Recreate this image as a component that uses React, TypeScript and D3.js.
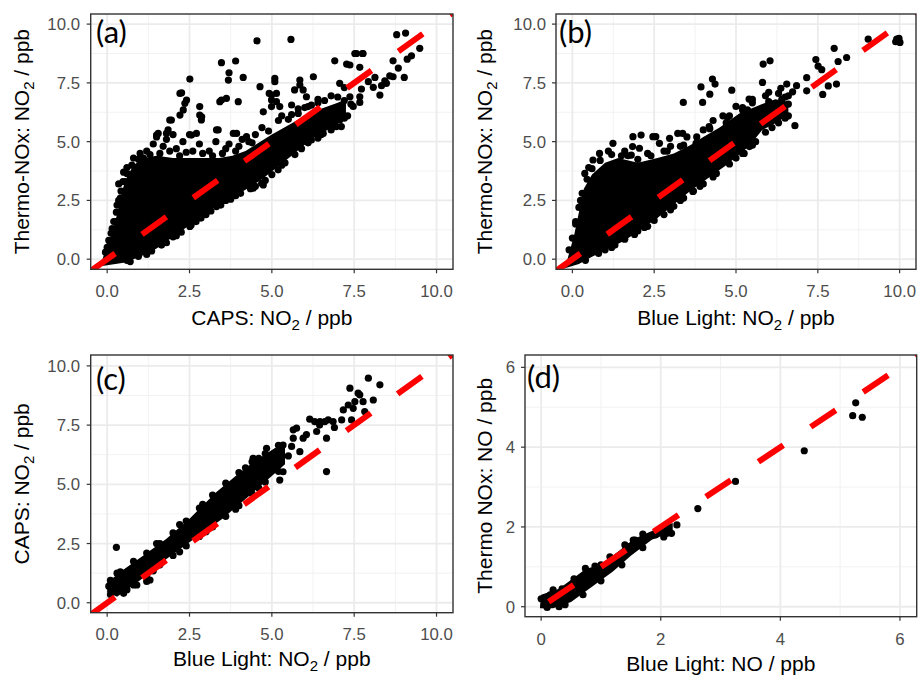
import React from 'react';
import * as d3 from 'd3';

type Pt = [number, number];

// axis ticks
const ticksNO2 = [0, 2.5, 5, 7.5, 10];
const minorNO2 = [1.25, 3.75, 6.25, 8.75];
const labelsNO2 = ['0.0', '2.5', '5.0', '7.5', '10.0'];
const ticksNO = [0, 2, 4, 6];
const minorNO = [1, 3, 5];
const labelsNO = ['0', '2', '4', '6'];

// (a) Thermo-NOx vs CAPS NO2 : saturated core outline + single points
const coreA: Pt[] = [
  [-0.2, -0.3], [0.5, -0.15], [1.0, 0.1], [1.5, 0.45], [2.4, 1.35], [3.3, 2.25], [4.2, 2.95],
  [4.7, 3.4], [5.2, 3.95], [5.6, 4.4], [6.2, 5.1], [7.0, 5.75], [7.25, 6.2],
  [7.25, 6.8], [7.0, 6.65], [6.2, 6.25], [5.5, 5.7], [5.0, 5.3], [4.6, 4.95], [4.2, 4.6],
  [3.8, 4.4], [3.4, 4.3], [3.0, 4.3], [2.5, 4.3], [2.0, 4.3], [1.5, 4.4], [1.1, 4.3],
  [0.8, 4.0], [0.6, 3.5], [0.45, 2.9], [0.3, 1.9], [0.1, 0.9], [-0.1, 0.2],
];
const pointsA: Pt[] = [
  [4.55, 9.29], [5.58, 9.35], [8.79, 9.55], [9.06, 9.62], [9.49, 8.97], [9.24, 8.65], [9.11, 8.51],
  [8.68, 8.44], [8.84, 8.13], [9.02, 7.73], [8.58, 7.8], [8.43, 7.59], [8.33, 7.38], [8.28, 6.98],
  [8.08, 7.31], [8.13, 7.73], [7.67, 8.16], [7.52, 8.75], [7.75, 8.75], [7.27, 8.3], [6.91, 8.44],
  [7.72, 7.24], [7.67, 6.67], [7.47, 6.5], [2.51, 7.66], [2.26, 7.08], [2.41, 6.77], [2.31, 6.35],
  [2.21, 6.13], [1.95, 5.92], [1.5, 5.28], [1.8, 5.35], [2.81, 6.49], [2.81, 6.13], [2.86, 5.92],
  [2.56, 5.28], [3.47, 8.36], [3.9, 8.43], [3.7, 7.93], [3.68, 7.62], [4.13, 7.73], [3.47, 6.77],
  [3.62, 6.84], [3.98, 6.7], [3.32, 5.5], [3.83, 5.35], [4.23, 5.21], [4.64, 7.34], [4.92, 7.05],
  [5.09, 7.55], [5.09, 7.69], [4.99, 6.77], [5.14, 6.7], [5.24, 6.49], [4.74, 6.27], [4.69, 3.23],
  [4.43, 3.02], [5.6, 6.56], [5.85, 7.62], [5.85, 7.41], [6.26, 7.76], [5.69, 7.2], [5.95, 7.2],
  [6.05, 6.91], [6.1, 6.49], [6.2, 5.07], [5.85, 5.21], [7.37, 8.26], [7.57, 8.75], [7.77, 8.75],
  [7.06, 7.48], [7.37, 6.91], [7.67, 6.91], [7.93, 7.55], [8.48, 7.48], [8.68, 7.76], [6.96, 5.64],
  [7.06, 5.92], [6.56, 5.35], [7.11, 5.64], [2.21, 7.05], [2.36, 6.63], [2.87, 6.06], [3.42, 6.7],
  [4.99, 6.49], [4.99, 6.98], [5.14, 7.05], [1.9, 5.92], [1.85, 5.5], [1.55, 5.35], [2.71, 5.35],
  [3.37, 5.5], [3.93, 5.35], [3.32, 2.24], [4.43, 3.09], [4.74, 3.16], [5.19, 3.8], [2.51, 1.39],
  [0.7, -0.1], [1.2, 0.2], [1.8, 0.7], [2.1, 1.0], [2.7, 1.6], [3.0, 1.9], [3.6, 2.5], [3.9, 2.7],
  [4.5, 3.1], [5.0, 3.6], [5.4, 4.1], [5.9, 4.7], [6.5, 5.3], [6.8, 5.5], [7.2, 6.0], [0.0, 0.5],
  [0.15, 1.3], [0.25, 1.6], [0.3, 2.3], [0.4, 2.6], [0.35, 3.2], [0.55, 3.3], [0.5, 3.7],
  [0.6, 3.9], [0.8, 4.3], [1.0, 4.5], [1.2, 4.6], [1.4, 4.9], [1.5, 5.2], [1.7, 4.8], [1.8, 5.1],
  [2.0, 5.3], [2.1, 4.7], [2.3, 5.0], [2.5, 5.3], [2.6, 4.6], [2.8, 4.9], [2.9, 4.5], [3.1, 4.6],
  [3.3, 5.0], [3.5, 4.5], [3.7, 4.9], [3.9, 4.6], [4.1, 5.1], [4.3, 5.0], [4.5, 5.3], [4.7, 5.6],
  [1.1, 4.3], [1.6, 4.5], [2.2, 4.4], [1.3, 4.45], [1.9, 4.6], [2.4, 4.55], [3.2, 4.4], [3.6, 4.7],
  [4.0, 4.8], [5.3, 6.1], [5.8, 6.4], [6.4, 6.8], [7.2, 7.3], [7.4, 6.6],
  [5.2, 5.9], [5.6, 6.15], [6.0, 6.45], [6.4, 6.65], [6.8, 6.95], [5.3, 4.0], [5.7, 4.45],
  [6.1, 4.95], [6.4, 5.15], [6.9, 5.65], [7.3, 6.1], [0.6, -0.05], [0.95, 0.12], [1.35, 0.35],
  [1.65, 0.6], [2.0, 0.95], [2.25, 1.15], [2.55, 1.45], [2.85, 1.75], [3.15, 2.05], [3.45, 2.3],
  [3.75, 2.55], [4.05, 2.8], [4.35, 3.0], [4.8, 3.35], [-0.05, 0.3], [0.05, 0.8], [0.12, 1.1],
  [0.2, 1.6], [0.28, 2.0], [0.35, 2.5], [0.42, 2.9], [0.48, 3.3], [0.6, 3.65], [0.75, 4.0],
  [0.95, 4.25], [6.6, 6.75], [7.0, 6.9], [5.8, 6.2], [4.9, 5.45], [4.4, 4.95], [6.2, 6.55],
  [5.5, 5.95], [7.2, 6.75],
];

// (b) Thermo-NOx vs Blue Light NO2
const coreB: Pt[] = [
  [-0.5, -0.5], [0.2, -0.2], [0.6, 0.1], [1.6, 0.8], [2.6, 1.75], [3.6, 2.9], [4.7, 4.0],
  [5.4, 4.8], [5.8, 5.5], [6.3, 5.85], [6.6, 6.2],
  [6.6, 6.7], [6.2, 6.8], [5.8, 6.6], [5.1, 6.2], [4.5, 5.6], [4.0, 5.2], [3.6, 4.85], [3.1, 4.5],
  [2.6, 4.3], [2.0, 4.1], [1.4, 4.3], [1.0, 4.1], [0.6, 3.6], [0.35, 3.0], [0.2, 2.0], [0.05, 1.0],
  [-0.15, 0.0],
];
const pointsB: Pt[] = [
  [9.04, 9.36], [9.98, 9.39], [9.88, 9.25], [9.91, 9.36], [10.01, 9.22], [8.0, 8.97], [8.38, 8.58],
  [8.12, 8.41], [7.44, 8.49], [7.51, 8.21], [7.62, 8.06], [7.16, 7.72], [7.16, 7.16], [7.65, 7.01],
  [8.07, 7.45], [7.82, 7.37], [5.83, 8.3], [6.04, 8.44], [5.81, 7.52], [4.87, 7.19], [3.93, 7.33],
  [4.28, 7.66], [4.36, 7.45], [4.2, 7.02], [3.98, 6.67], [3.39, 6.67], [5.4, 6.81], [4.74, 6.03],
  [6.8, 5.68], [6.55, 7.45], [6.85, 7.38], [6.37, 7.27], [6.73, 7.12], [6.52, 6.06], [5.25, 4.5],
  [5.41, 4.79], [2.87, 2.24], [3.68, 2.88], [1.24, 4.93], [1.85, 5.21], [2.1, 5.28], [2.46, 5.21],
  [1.8, 4.43], [2.05, 4.72], [2.97, 5.14], [3.22, 5.35], [2.66, 4.93], [0.83, 4.5], [0.63, 4.22],
  [0.38, 3.65], [1.84, 4.79], [2.55, 5.21], [3.37, 5.35], [3.78, 4.93], [4.18, 5.64], [4.9, 5.78],
  [5.2, 6.35], [1.0, 0.4], [1.3, 0.6], [2.0, 1.2], [2.3, 1.4], [3.0, 2.1], [3.3, 2.5], [3.9, 3.1],
  [4.3, 3.5], [5.0, 4.3], [5.6, 5.0], [6.1, 5.6], [6.5, 6.0], [4.3, 5.9], [4.6, 6.1], [5.0, 6.5],
  [5.5, 6.8], [3.5, 5.2], [3.0, 4.8], [2.3, 4.5], [1.6, 4.6], [1.1, 4.6], [0.5, 3.9], [0.25, 2.5],
  [0.1, 1.5], [1.5, 4.4], [2.8, 4.6], [3.3, 4.8], [4.0, 5.5], [6.0, 7.1], [6.5, 6.9],
  [0.4, -0.05], [0.8, 0.25], [1.2, 0.5], [1.6, 0.85], [1.9, 1.05], [2.2, 1.35], [2.5, 1.65],
  [2.8, 1.9], [3.1, 2.25], [3.4, 2.6], [3.7, 2.9], [4.0, 3.2], [4.4, 3.65], [4.8, 4.05],
  [5.2, 4.5], [5.5, 4.85], [5.9, 5.4], [6.3, 5.8], [6.6, 6.1], [6.6, 6.95], [6.3, 7.05],
  [5.9, 6.95], [5.5, 6.65], [5.2, 6.45], [4.8, 6.1], [4.2, 5.55], [3.8, 5.2], [3.4, 4.85],
  [2.9, 4.6], [2.4, 4.4], [2.0, 4.25], [1.7, 4.4], [1.2, 4.45], [0.85, 4.2], [0.6, 3.85],
  [0.45, 3.4], [0.3, 2.8], [0.2, 2.2], [0.1, 1.6], [0.0, 0.9], [-0.1, 0.4], [6.4, 6.8],
  [6.0, 6.7], [5.35, 6.35], [4.7, 5.8], [6.6, 6.6],
];

// (c) CAPS vs Blue Light NO2
const coreC: Pt[] = [
  [0.0, 0.45], [0.3, 0.25], [1.0, 0.95], [1.8, 1.85], [2.5, 2.55], [3.5, 3.55], [4.3, 4.5],
  [5.0, 5.35], [5.4, 5.85],
  [5.4, 6.75], [5.0, 6.45], [4.4, 5.9], [3.9, 5.35], [3.3, 4.65], [2.5, 3.55], [1.8, 2.7],
  [1.1, 2.0], [0.5, 1.4], [0.0, 0.85],
];
const pointsC: Pt[] = [
  [0.28, 2.34], [1.3, 0.96], [5.24, 5.18], [6.66, 5.54], [7.93, 9.48], [8.28, 9.2], [7.37, 9.06],
  [7.62, 8.85], [8.08, 8.56], [7.77, 8.49], [7.47, 8.21], [7.17, 8.14], [7.12, 7.72], [6.71, 7.72],
  [6.46, 7.65], [6.15, 7.75], [5.65, 7.3], [7.67, 8.78], [7.52, 8.49], [7.32, 8.35], [7.42, 7.72],
  [7.82, 8.07], [6.61, 7.65], [5.75, 7.37], [6.36, 7.23], [6.66, 6.95], [5.95, 6.95], [5.65, 6.95],
  [5.34, 6.66], [5.14, 6.38], [4.84, 6.52], [4.94, 5.96], [5.34, 5.53], [4.64, 5.82], [4.43, 6.1],
  [5.85, 6.38], [6.86, 7.65], [6.45, 7.5], [6.9, 7.4], [6.3, 7.65], [6.05, 7.1], [5.5, 6.2],
  [5.6, 6.6], [0.1, 0.35], [0.6, 0.55], [1.4, 1.35], [2.2, 2.15], [3.0, 3.0], [3.9, 3.95],
  [4.6, 4.85], [0.3, 1.25], [0.8, 1.75], [1.5, 2.5], [2.2, 3.3], [2.9, 4.15], [3.6, 5.05],
  [4.2, 5.7], [4.6, 6.1], [1.2, 0.9], [0.9, 0.75], [0.05, 0.7],
  [0.5, 0.4], [0.8, 0.75], [1.2, 1.15], [1.6, 1.6], [2.0, 2.0], [2.4, 2.4], [2.8, 2.8],
  [3.2, 3.2], [3.6, 3.65], [4.0, 4.1], [4.4, 4.6], [4.8, 5.1], [5.2, 5.55], [5.2, 6.65],
  [4.8, 6.3], [4.4, 5.95], [4.0, 5.5], [3.2, 4.55], [2.8, 4.0], [2.4, 3.45], [2.0, 2.95],
  [1.6, 2.5], [1.2, 2.1], [0.4, 1.3], [0.1, 0.95],
];

// (d) Thermo NOx vs Blue Light NO
const coreD: Pt[] = [
  [-0.02, -0.04], [0.2, -0.04], [0.5, 0.12], [0.85, 0.5], [1.2, 0.88], [1.5, 1.28], [1.85, 1.68],
  [2.2, 1.88], [2.2, 2.1], [1.85, 1.9], [1.55, 1.7], [1.3, 1.4], [1.0, 1.05], [0.75, 0.95],
  [0.3, 0.45], [0.0, 0.3],
];
const pointsD: Pt[] = [
  [5.26, 5.11], [5.21, 4.79], [5.37, 4.75], [4.4, 3.91], [3.25, 3.14], [2.62, 2.46], [2.27, 2.05],
  [2.1, 1.84], [1.91, 1.8], [1.57, 1.67], [2.18, 1.84], [0.74, 0.96], [1.54, 1.67], [0.35, 0.45],
  [0.15, 0.3], [0.05, 0.05], [0.1, -0.02], [0.3, 0.0], [1.0, 1.05], [1.2, 1.2], [1.45, 1.5],
  [1.7, 1.7], [2.0, 1.9], [0.55, 0.62], [0.9, 0.8],
  [0.4, 0.05], [0.7, 0.3], [1.0, 0.65], [1.35, 1.05], [1.7, 1.48], [2.05, 1.75], [2.05, 2.0],
  [1.7, 1.82], [1.4, 1.55], [1.15, 1.25], [0.9, 1.02], [0.55, 0.7], [0.2, 0.42], [0.0, 0.2],
];

const FONT = '"Liberation Sans", Arial, sans-serif';

type Label = [string, string, string];

interface PanelDef {
  id: string;
  tag: string;
  xr: [number, number];
  yr: [number, number];
  xd: [number, number];
  yd: [number, number];
  ticks: number[];
  minor: number[];
  labels: string[];
  core: Pt[];
  points: Pt[];
  xTitle: Label;
  yTitle: Label;
  yTickRight: number;
  xTickBase: number;
  xTitleBase: number;
  yTitleX: number;
  tagPos: [number, number];
  dashOffset: number;
}

const panels: PanelDef[] = [
  {
    id: 'a', tag: '(a)', xr: [90.7, 453], yr: [269.3, 14], xd: [-0.5, 10.5], yd: [-0.43, 10.43],
    ticks: ticksNO2, minor: minorNO2, labels: labelsNO2, core: coreA, points: pointsA,
    xTitle: ['CAPS: NO', '2', ' / ppb'], yTitle: ['Thermo-NOx: NO', '2', ' / ppb'],
    yTickRight: 80, xTickBase: 297, xTitleBase: 325, yTitleX: 28.5, tagPos: [96, 43], dashOffset: 0,
  },
  {
    id: 'b', tag: '(b)', xr: [556, 916], yr: [269.3, 14], xd: [-0.5, 10.5], yd: [-0.43, 10.43],
    ticks: ticksNO2, minor: minorNO2, labels: labelsNO2, core: coreB, points: pointsB,
    xTitle: ['Blue Light: NO', '2', ' / ppb'], yTitle: ['Thermo-NOx: NO', '2', ' / ppb'],
    yTickRight: 546, xTickBase: 297, xTitleBase: 325, yTitleX: 491.5, tagPos: [559, 43], dashOffset: 0,
  },
  {
    id: 'c', tag: '(c)', xr: [90.7, 453], yr: [612.7, 355], xd: [-0.5, 10.5], yd: [-0.42, 10.46],
    ticks: ticksNO2, minor: minorNO2, labels: labelsNO2, core: coreC, points: pointsC,
    xTitle: ['Blue Light: NO', '2', ' / ppb'], yTitle: ['CAPS: NO', '2', ' / ppb'],
    yTickRight: 80, xTickBase: 640, xTitleBase: 666, yTitleX: 28.5, tagPos: [96, 390], dashOffset: 0,
  },
  {
    id: 'd', tag: '(d)', xr: [525, 916.7], yr: [616.7, 355], xd: [-0.27, 6.28], yd: [-0.25, 6.31],
    ticks: ticksNO, minor: minorNO, labels: labelsNO, core: coreD, points: pointsD,
    xTitle: ['Blue Light: NO / ppb', '', ''], yTitle: ['Thermo NOx: NO / ppb', '', ''],
    yTickRight: 515, xTickBase: 645, xTitleBase: 671, yTitleX: 491.5, tagPos: [527, 388], dashOffset: 34.5,
  },
];

const TitleText = ({ parts, ...rest }: { parts: Label } & React.SVGProps<SVGTextElement>) => (
  <text fontFamily={FONT} fontSize={21} fill="#000" textAnchor="middle" {...rest}>
    {parts[0]}
    {parts[1] && <tspan dy={5} fontSize={15}>{parts[1]}</tspan>}
    {parts[1] && <tspan dy={-5}>{parts[2]}</tspan>}
  </text>
);

const Panel = ({ p }: { p: PanelDef }) => {
  const x = d3.scaleLinear().domain(p.xd).range(p.xr);
  const y = d3.scaleLinear().domain(p.yd).range(p.yr);
  const area = d3.line<Pt>().x(d => x(d[0])).y(d => y(d[1]));
  const diag = d3.line<number>().x(d => x(d)).y(d => y(d));
  const [l, r] = p.xr;
  const [b, t] = p.yr;
  const clipId = `clip-${p.id}`;
  const cx = (l + r) / 2;
  const cy = (b + t) / 2;

  return (
    <g>
      <defs>
        <clipPath id={clipId}>
          <rect x={l} y={t} width={r - l} height={b - t} />
        </clipPath>
      </defs>
      <rect x={l} y={t} width={r - l} height={b - t} fill="#fff" />
      <g clipPath={`url(#${clipId})`}>
        {p.minor.map(v => (
          <g key={`m${v}`}>
            <line x1={x(v)} x2={x(v)} y1={t} y2={b} stroke="#f2f2f2" strokeWidth={1} />
            <line x1={l} x2={r} y1={y(v)} y2={y(v)} stroke="#f2f2f2" strokeWidth={1} />
          </g>
        ))}
        {p.ticks.map(v => (
          <g key={`M${v}`}>
            <line x1={x(v)} x2={x(v)} y1={t} y2={b} stroke="#ebebeb" strokeWidth={1.8} />
            <line x1={l} x2={r} y1={y(v)} y2={y(v)} stroke="#ebebeb" strokeWidth={1.8} />
          </g>
        ))}
        <path d={area(p.core) + 'Z'} fill="#000" />
        {p.points.map((d, i) => (
          <circle key={i} cx={x(d[0])} cy={y(d[1])} r={3.6} fill="#000" />
        ))}
        <path
          d={diag([p.xd[0], p.xd[1]]) || ''}
          stroke="#ff0000"
          strokeWidth={6}
          strokeDasharray="30 33"
          strokeDashoffset={p.dashOffset}
          fill="none"
        />
      </g>
      <rect x={l} y={t} width={r - l} height={b - t} fill="none" stroke="#333" strokeWidth={1.4} />
      {p.ticks.map((v, i) => (
        <g key={`t${v}`}>
          <line x1={x(v)} x2={x(v)} y1={b} y2={b + 4} stroke="#333" strokeWidth={1.2} />
          <line x1={l - 4} x2={l} y1={y(v)} y2={y(v)} stroke="#333" strokeWidth={1.2} />
          <text x={x(v)} y={p.xTickBase} textAnchor="middle" fontFamily={FONT} fontSize={16.8} fill="#4d4d4d">
            {p.labels[i]}
          </text>
          <text x={p.yTickRight} y={y(v)} dy="0.36em" textAnchor="end" fontFamily={FONT} fontSize={16.8} fill="#4d4d4d">
            {p.labels[i]}
          </text>
        </g>
      ))}
      <TitleText parts={p.xTitle} x={cx} y={p.xTitleBase} />
      <TitleText parts={p.yTitle} x={0} y={0} transform={`translate(${p.yTitleX},${cy}) rotate(-90)`} />
      <text x={p.tagPos[0]} y={p.tagPos[1]} fontFamily="Lato, 'Open Sans', sans-serif" fontSize={31} fill="#000">
        {p.tag}
      </text>
    </g>
  );
};

export default function App() {
  return (
    <svg
      width={921}
      height={675}
      viewBox="0 0 921 675"
      style={{ position: 'absolute', left: 0, top: 0, background: '#fff' }}
    >
      <rect width={921} height={675} fill="#fff" />
      {panels.map(p => (
        <Panel key={p.id} p={p} />
      ))}
    </svg>
  );
}
